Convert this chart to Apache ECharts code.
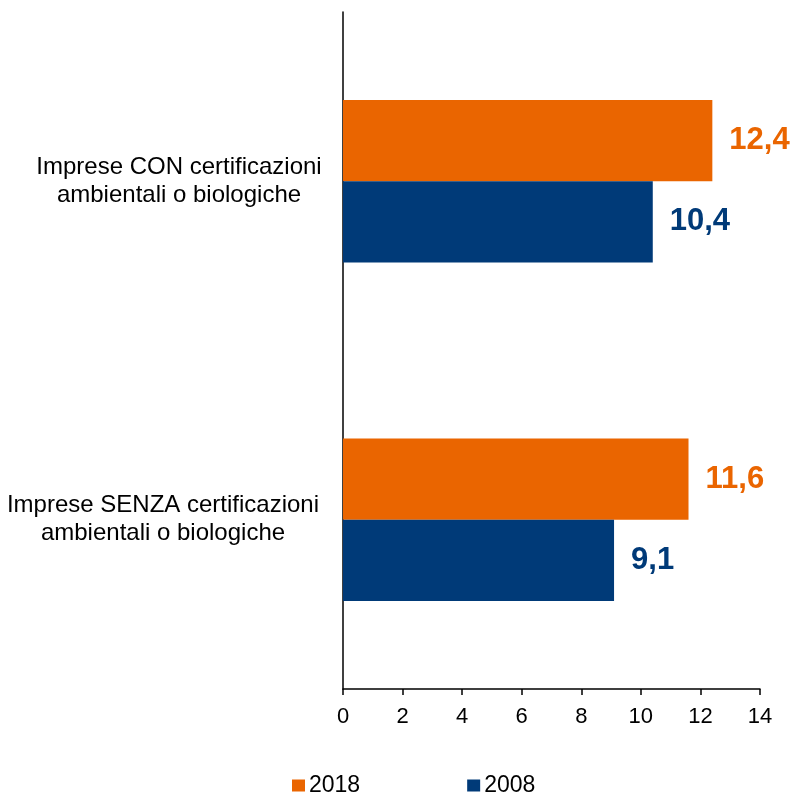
<!DOCTYPE html>
<html><head><meta charset="utf-8">
<script src="https://cdn.jsdelivr.net/npm/echarts@6/dist/echarts.min.js"></script>
<style>html,body{margin:0;padding:0;background:#fff}#c{width:792px;height:794px}</style>
</head><body><div id="c"></div>
<script>
const categories = ['Imprese CON certificazioni\nambientali o biologiche', 'Imprese SENZA certificazioni\nambientali o biologiche'];
const seriesNames = ['2018', '2008'];
const values2018 = [12.4, 11.6];
const values2008 = [10.4, 9.1];
const xTicks = [0, 2, 4, 6, 8, 10, 12, 14];
const colors = ['#EA6500', '#003A78'];
const FONT = 'Liberation Sans, Arial, sans-serif';

const chart = echarts.init(document.getElementById('c'));
const fmt = v => String(v.value).replace('.', ',');
function mk(name, data, color) {
  return {
    name, type: 'bar', data, barCategoryGap: '52%', barGap: '0%',
    itemStyle: { color },
    label: { show: true, position: 'right', distance: 17, formatter: fmt,
      color, fontFamily: FONT, fontWeight: 'bold', fontSize: 31 }
  };
}
chart.setOption({
  animation: false,
  grid: { left: 343, right: 32, top: 12, bottom: 105, containLabel: false },
  legend: {
    top: 769, left: 287, itemGap: 107, itemWidth: 13, itemHeight: 12, icon: 'rect',
    data: seriesNames,
    textStyle: { fontFamily: FONT, fontSize: 23, color: '#000', padding: [0, 0, 0, -1] }
  },
  xAxis: {
    type: 'value', min: 0, max: 14, interval: 2,
    axisLine: { show: true, lineStyle: { color: '#000', width: 1.5 } },
    axisTick: { show: true, length: 6, lineStyle: { color: '#000', width: 1.5 } },
    axisLabel: { fontFamily: FONT, fontSize: 22, color: '#000', margin: 17,
      formatter: v => xTicks.includes(v) ? String(v) : '' },
    splitLine: { show: false }
  },
  yAxis: {
    type: 'category', data: categories, inverse: true,
    axisLine: { show: true, lineStyle: { color: '#000', width: 1.5 } },
    axisTick: { show: false },
    axisLabel: {
      fontFamily: FONT, fontSize: 24, color: '#000', align: 'center', margin: 164, lineHeight: 28,
      formatter: (v, i) => {
        const st = i === 0 ? 'a' : 'b';
        return v.split('\n').map(s => '{' + st + '|' + s + '}').join('\n');
      },
      rich: {
        a: { fontFamily: FONT, fontSize: 24, color: '#000', lineHeight: 28 },
        b: { fontFamily: FONT, fontSize: 24, color: '#000', lineHeight: 28, padding: [0, 32, 0, 0] }
      }
    }
  },
  series: [mk(seriesNames[0], values2018, colors[0]), mk(seriesNames[1], values2008, colors[1])]
});
</script></body></html>
